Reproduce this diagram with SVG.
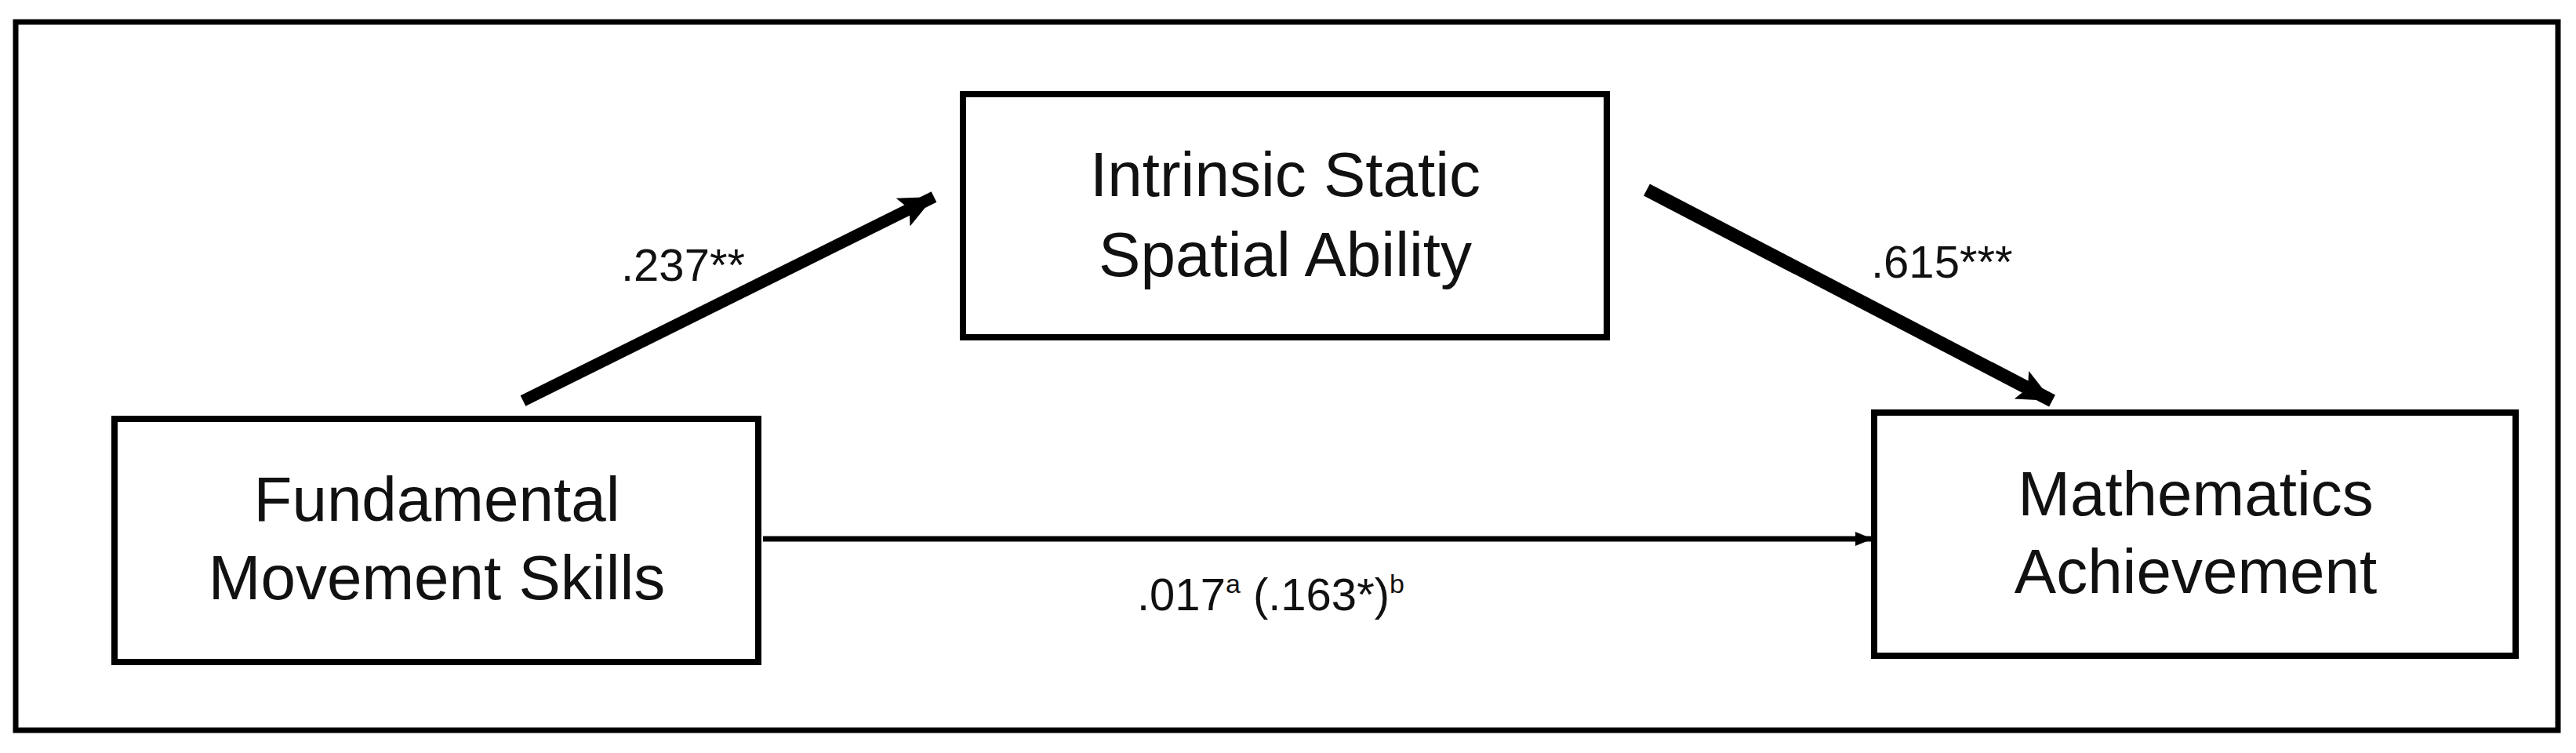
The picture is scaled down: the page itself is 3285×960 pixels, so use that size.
<svg xmlns="http://www.w3.org/2000/svg" width="3285" height="960" viewBox="0 0 3285 960">
<style>
.box{fill:#fff;stroke:#000;stroke-width:8}
.t{font-family:"Liberation Sans",Arial,sans-serif;font-size:80px;fill:#111;text-anchor:middle}
.l{font-family:"Liberation Sans",Arial,sans-serif;font-size:58px;fill:#111}
.c{stroke:#000;fill:none}
</style>
<defs>
<marker id="ah" markerUnits="userSpaceOnUse" markerWidth="48" markerHeight="44" refX="44" refY="22" orient="auto"><path d="M0,2 L44,22 L0,42 L9,22 Z" fill="#000"/></marker>
<marker id="ahs" markerUnits="userSpaceOnUse" markerWidth="24" markerHeight="24" refX="22" refY="12" orient="auto"><path d="M0,3 L22,12 L0,21 Z" fill="#000"/></marker>
</defs>
<rect x="20" y="28" width="3242" height="903" fill="#fff" stroke="#000" stroke-width="7"/>
<g id="connectors">
<line class="c" x1="667" y1="511" x2="1191" y2="251" stroke-width="15" marker-end="url(#ah)"/>
<line class="c" x1="2100" y1="242" x2="2617" y2="511" stroke-width="17" marker-end="url(#ah)"/>
<line class="c" x1="973" y1="687" x2="2388" y2="687" stroke-width="7" marker-end="url(#ahs)"/>
</g>
<g id="fms"><rect class="box" x="146" y="534" width="821" height="310"/>
<text class="t" x="557" y="664">Fundamental</text><text class="t" x="557" y="764">Movement Skills</text></g>
<g id="issa"><rect class="box" x="1228" y="120" width="821" height="310"/>
<text class="t" x="1639" y="250">Intrinsic Static</text><text class="t" x="1639" y="352">Spatial Ability</text></g>
<g id="ma"><rect class="box" x="2390" y="526" width="818" height="310"/>
<text class="t" x="2800" y="657">Mathematics</text><text class="t" x="2800" y="756">Achievement</text></g>
<g id="labels">
<text class="l" x="792" y="358">.237**</text>
<text class="l" x="2386" y="354">.615***</text>
<text class="l" x="1450" y="778">.017<tspan font-size="34" dy="-22">a</tspan><tspan dy="22"> (.163*)</tspan><tspan font-size="34" dy="-22">b</tspan></text>
</g>
</svg>
